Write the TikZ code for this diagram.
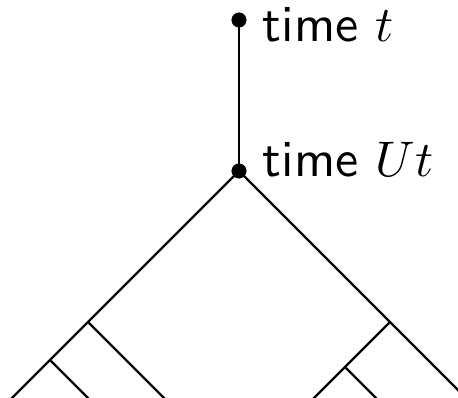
\documentclass[tikz,border=0pt]{standalone}
\begin{document}
\begin{tikzpicture}[x=0.2pt,y=-0.2pt,
  dot/.style={circle,fill=black,inner sep=0pt,minimum size=2.95pt},
  edge/.style={line width=0.48pt},
  lbl/.style={anchor=base west,inner sep=0pt,font=\fontsize{10.4}{12}\selectfont\sffamily}]
\useasboundingbox (0,0) rectangle (458,398);
\clip (0,0) rectangle (458,398);
\node[dot] (top) at (239,20) {};
\node[dot] (root) at (239,171) {};
\coordinate (L1) at (88,322);
\coordinate (L2) at (50,360);
\coordinate (Lend) at (5,405);
\coordinate (L1end) at (171,405);
\coordinate (L2end) at (95,405);
\coordinate (R1) at (390,322);
\coordinate (R2) at (345,367);
\coordinate (Rend) at (473,405);
\coordinate (R1end) at (307,405);
\coordinate (R2end) at (383,405);
\draw[edge] (top.center) -- (root.center);
\draw[edge] (root.center) -- (L1) -- (L2) -- (Lend);
\draw[edge] (L1) -- (L1end);
\draw[edge] (L2) -- (L2end);
\draw[edge] (root.center) -- (R1) -- (Rend);
\draw[edge] (R1) -- (R2) -- (R1end);
\draw[edge] (R2) -- (R2end);
\node[dot] at (top) {};
\node[dot] at (root) {};
\node[lbl] (ltop) at (262,42) {time $t$};
\node[lbl] (lroot) at (262,177) {time $Ut$};
\end{tikzpicture}
\end{document}
